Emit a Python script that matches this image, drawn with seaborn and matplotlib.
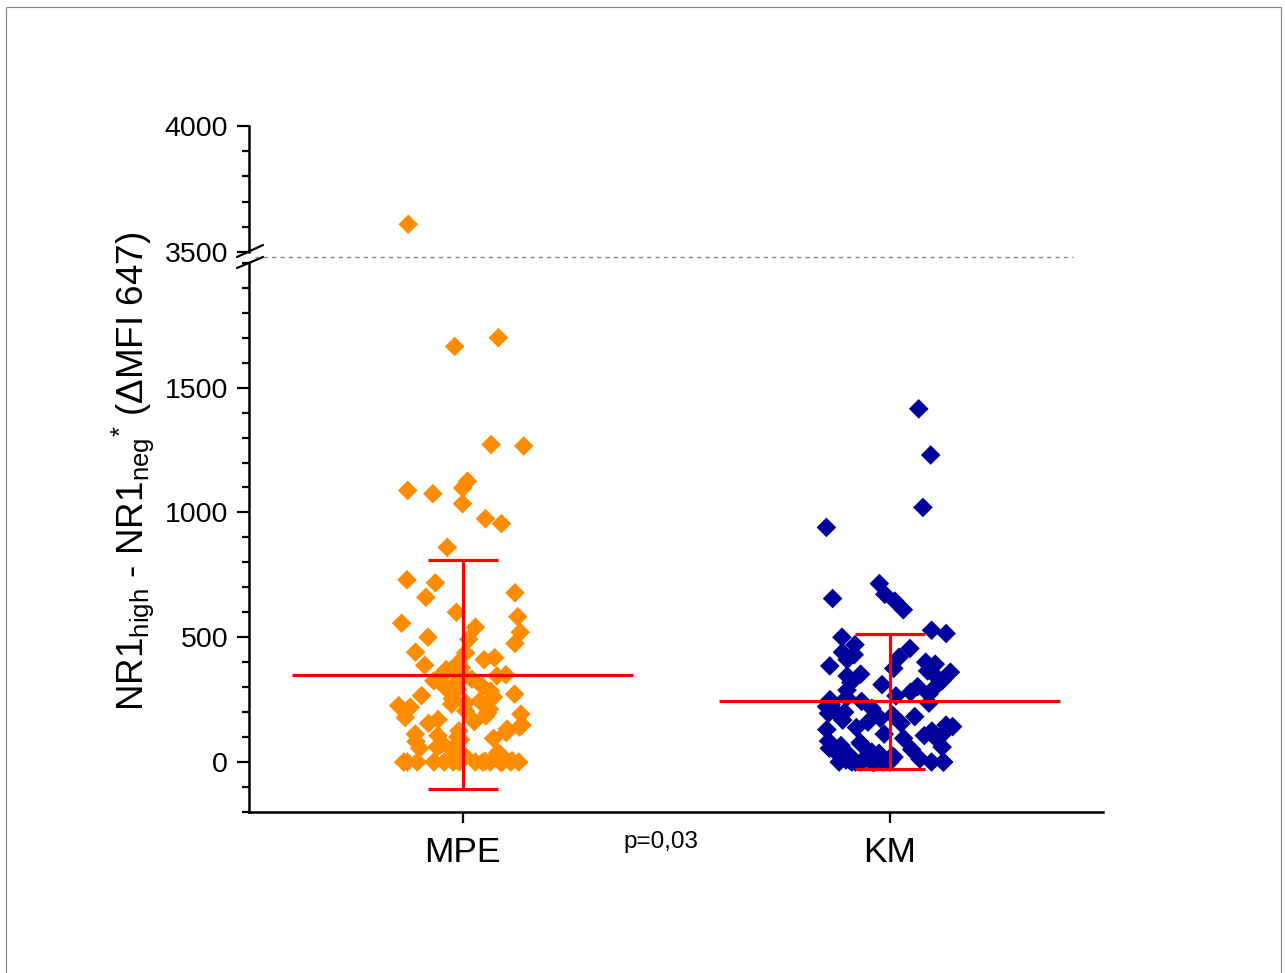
import numpy as np
import pandas as pd
import matplotlib
matplotlib.use("Agg")
import matplotlib.pyplot as plt
from matplotlib.lines import Line2D
from matplotlib.patches import Rectangle
from matplotlib.ticker import MultipleLocator
import seaborn as sns

# values
groups = ["MPE", "KM"]
mpe_values = [3610, 1700, 1665, 1272, 1266, 1125, 1098, 1088, 1075, 1035, 975, 955, 860,
              730, 718, 678, 660, 600, 582, 556, 540, 520, 500, 492, 475, 440, 437, 418,
              410, 398, 388, 378, 370, 362, 356, 350, 345, 338, 332, 325, 318, 310, 302,
              296, 290, 284, 278, 272, 266, 260, 255, 250, 244, 238, 232, 226, 220, 212,
              205, 198, 192, 185, 178, 170, 162, 155, 148, 140, 132, 125, 118, 112, 106,
              100, 95, 90, 82, 75, 68, 60, 55, 50, 45, 38, 30, 22, 15, 8, 5, 3,
              0, 0, 0, 0, 0, 0, 0, 0, 0, 0, 0, 0, 0, 0, 0]
km_values = [1415, 1230, 1020, 940, 715, 672, 655, 645, 610, 528, 515, 500, 470, 455,
             440, 430, 420, 410, 400, 392, 385, 375, 365, 360, 352, 345, 335, 325, 318,
             310, 302, 295, 288, 280, 272, 265, 258, 250, 243, 236, 230, 222, 215, 208,
             200, 195, 188, 182, 175, 168, 160, 155, 148, 142, 138, 130, 124, 118, 112,
             106, 100, 95, 90, 84, 78, 72, 66, 60, 55, 50, 45, 40, 35, 30, 25, 20, 15,
             12, 8, 5, 3, 0, 0, 0, 0, 0, 0, 0, 0, 0, 0, 0, 0]
group_mean = [350, 244]
group_sd = [458, 270]
p_label = "p=0,03"

colors = {"MPE": "#FF8C00", "KM": "#00009C"}

df = pd.DataFrame({
    "group": ["MPE"] * len(mpe_values) + ["KM"] * len(km_values),
    "value": mpe_values + km_values,
})

sns.set_style("ticks")
plt.rcParams["font.family"] = ["Liberation Sans", "DejaVu Sans"]
plt.rcParams["mathtext.fontset"] = "custom"
plt.rcParams["mathtext.rm"] = "Liberation Sans"
plt.rcParams["mathtext.it"] = "Liberation Sans"
for key in ("text.color", "axes.labelcolor", "xtick.color", "ytick.color", "axes.edgecolor"):
    plt.rcParams[key] = "black"

fig = plt.figure(figsize=(12.85, 9.73), dpi=100)
ax_top = fig.add_axes([0.1938, 0.7410, 0.6646, 0.1295])
ax = fig.add_axes([0.1938, 0.1655, 0.6646, 0.5644])

for a in (ax_top, ax):
    np.random.seed(7)
    sns.stripplot(data=df, x="group", y="value", hue="group", order=groups,
                  palette=colors, marker="D", size=10, jitter=0.15,
                  linewidth=0, legend=False, ax=a, zorder=2)
    a.set_xlim(-0.5, 1.5)
    for i, g in enumerate(groups):
        a.hlines(group_mean[i], i - 0.4, i + 0.4, color="#FF0000", lw=2.3, zorder=4)
    a.errorbar([0, 1], group_mean, yerr=group_sd, fmt="none", ecolor="#FF0000",
               elinewidth=2.3, capsize=25, capthick=2.3, zorder=4)
    a.set_xlabel("")
    a.set_ylabel("")
    sns.despine(ax=a)
    for s in ("left", "bottom"):
        a.spines[s].set_linewidth(1.8)
    a.tick_params(axis="y", which="major", length=9, width=1.6, labelsize=20.5, pad=6)
    a.tick_params(axis="y", which="minor", length=5, width=1.6)
    a.yaxis.set_minor_locator(MultipleLocator(100))

ax_top.set_ylim(3500, 4000)
ax_top.set_yticks([3500, 4000])
ax_top.spines["bottom"].set_visible(False)
ax_top.set_xticks([])

ax.set_ylim(-200, 2000)
ax.set_yticks([0, 500, 1000, 1500])
ax.set_xticks([0, 1])
ax.set_xticklabels(groups)
ax.tick_params(axis="x", length=8, width=1.6, labelsize=25.5, pad=9)

# axis break marks and dashed break line
fig.add_artist(Line2D([237 / 1285, 263 / 1285], [1 - 257 / 973, 1 - 245 / 973],
                      color="black", lw=1.6))
fig.add_artist(Line2D([237 / 1285, 263 / 1285], [1 - 268 / 973, 1 - 257 / 973],
                      color="black", lw=1.6))
fig.add_artist(Line2D([255 / 1285, 1073 / 1285], [1 - 257 / 973, 1 - 257 / 973],
                      color="#888888", lw=1.0, linestyle=(0, (3, 3))))

fig.text(133 / 1285, 1 - 471 / 973,
         r"NR1$_{\mathrm{high}}$ - NR1$_{\mathrm{neg}}$$^{*}$ (ΔMFI 647)",
         rotation=90, ha="center", va="center", fontsize=26.5)
fig.text(661 / 1285, 1 - 842 / 973, p_label, ha="center", va="center", fontsize=17.5)

fig.add_artist(Rectangle((6 / 1285, -0.05), (1281 - 6) / 1285, 1.05 - 7 / 973,
                         transform=fig.transFigure, fill=False,
                         edgecolor="#808080", lw=0.8))

plt.savefig("out.png", dpi=100)
